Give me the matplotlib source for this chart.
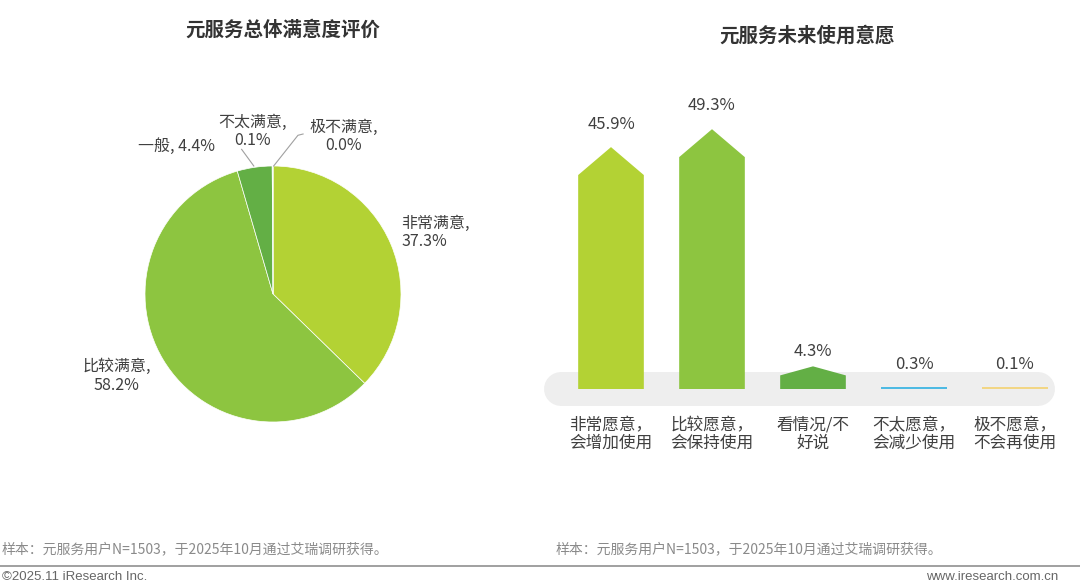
import matplotlib
matplotlib.use("Agg")
import matplotlib.pyplot as plt
from matplotlib.patches import Polygon
from matplotlib.lines import Line2D

plt.rcParams['font.family'] = ['Noto Sans CJK SC', 'DejaVu Sans']

# ---------------- data ----------------
pie_title = "元服务总体满意度评价"
pie_labels = ["非常满意", "比较满意", "一般", "不太满意", "极不满意"]
pie_values = [37.3, 58.2, 4.4, 0.1, 0.0]
pie_colors = ["#B3D234", "#8DC540", "#63AF45", "#4DBFB0", "#9ED9E8"]

bar_title = "元服务未来使用意愿"
bar_labels = ["非常愿意，\n会增加使用", "比较愿意，\n会保持使用", "看情况/不\n好说",
              "不太愿意，\n会减少使用", "极不愿意，\n不会再使用"]
bar_values = [45.9, 49.3, 4.3, 0.3, 0.1]
bar_colors = ["#B3D234", "#8DC540", "#63AF45", "#3DB5E2", "#F3D47A"]

footnote = "样本：元服务用户N=1503，于2025年10月通过艾瑞调研获得。"
copyright_txt = "©2025.11 iResearch Inc."
website_txt = "www.iresearch.com.cn"

W, H = 1080, 586
fig = plt.figure(figsize=(W / 100, H / 100), dpi=100)
fig.patch.set_facecolor("white")

def fx(px):
    return px / W

def fy(py):
    return 1 - py / H

TXT = "#404040"

# ---------------- pie ----------------
cx, cy, r = 273, 294, 128
axp = fig.add_axes([fx(cx - r), fy(cy + r), (2 * r) / W, (2 * r) / H])
axp.pie(pie_values, colors=pie_colors, startangle=90, counterclock=False,
        radius=1, wedgeprops=dict(edgecolor="white", linewidth=0.5))
axp.set_xlim(-1, 1)
axp.set_ylim(-1, 1)
axp.set_aspect("equal")
axp.axis("off")

lab_fs = 11.5
pie_text_pos = [
    (1.0, 0.48, "left"),
    (-1.22, -0.64, "center"),
    (-0.75, 1.15, "center"),
    (-0.16, 1.27, "center"),
    (0.55, 1.23, "center"),
]
for lbl, v, (x, y, ha) in zip(pie_labels, pie_values, pie_text_pos):
    if lbl == "一般":
        s = f"{lbl}, {v:.1f}%"
    else:
        s = f"{lbl},\n{v:.1f}%"
    axp.text(x, y, s, ha=ha, va="center", fontsize=lab_fs, color=TXT,
             multialignment=ha, linespacing=1.1, clip_on=False)

axp.add_line(Line2D([-0.15, -0.245], [1.0, 1.13], color="#A0A0A0", lw=0.8, clip_on=False))
axp.add_line(Line2D([0.005, 0.195, 0.235], [1.0, 1.24, 1.25], color="#A0A0A0", lw=0.8, clip_on=False))

fig.text(fx(283), fy(30), pie_title, ha="center", va="center", fontsize=14,
         fontweight="bold", color="#333333")

# ---------------- arrow bars ----------------
px_per_unit_x = 101.0
px_per_unit_y = 5.27
x0_px = 611  # pixel of x=0
base_px = 389
ax_left_px, ax_right_px = 540, 1070
ax_top_px = 90
axb = fig.add_axes([fx(ax_left_px), fy(base_px + 30), (ax_right_px - ax_left_px) / W,
                    (base_px + 30 - ax_top_px) / H])
axb.set_xlim((ax_left_px - x0_px) / px_per_unit_x, (ax_right_px - x0_px) / px_per_unit_x)
axb.set_ylim(-30 / px_per_unit_y, (base_px - ax_top_px) / px_per_unit_y)
axb.axis("off")

# gray band
band_lw_px = 34
axb.plot([-0.50, 4.23], [0, 0], color="#EEEEEE", lw=band_lw_px * 0.72,
         solid_capstyle="round", zorder=1)

label_offsets = [4.3, 4.5, 2.9, 4.4, 4.6]
bw = 0.65
for i, (v, c) in enumerate(zip(bar_values, bar_colors)):
    head = min(5.3, 0.4 * v)
    pts = [(i - bw / 2, 0), (i - bw / 2, v - head), (i, v), (i + bw / 2, v - head),
           (i + bw / 2, 0)]
    if v < 1:
        axb.plot([i - bw / 2, i + bw / 2], [0.15, 0.15], color=c, lw=1.3, zorder=3,
                 solid_capstyle="butt")
    else:
        axb.add_patch(Polygon(pts, closed=True, facecolor=c, edgecolor="none", zorder=3))
    axb.text(i, v + label_offsets[i], f"{v:.1f}%", ha="center", va="center",
             fontsize=12, color=TXT)
    axb.text(i, -5.3, bar_labels[i], ha="center", va="top", fontsize=12,
             color=TXT, linespacing=1.05, clip_on=False)

fig.text(fx(807), fy(36), bar_title, ha="center", va="center", fontsize=14,
         fontweight="bold", color="#333333")

# ---------------- footer ----------------
fig.text(fx(2), fy(549), footnote, ha="left", va="center", fontsize=10, color="#8A8A8A")
fig.text(fx(556), fy(549), footnote, ha="left", va="center", fontsize=10, color="#8A8A8A")
fig.add_artist(Line2D([0, 1], [fy(566), fy(566)], color="#909090", lw=1.2,
                      transform=fig.transFigure))
fig.text(fx(2), fy(577), copyright_txt, ha="left", va="center", fontsize=9.5,
         color="#666666", family=["Liberation Sans", "DejaVu Sans"])
fig.text(fx(1058), fy(577), website_txt, ha="right", va="center", fontsize=9.5,
         color="#666666", family=["Liberation Sans", "DejaVu Sans"])

fig.savefig("out.png", dpi=100, facecolor="white")
